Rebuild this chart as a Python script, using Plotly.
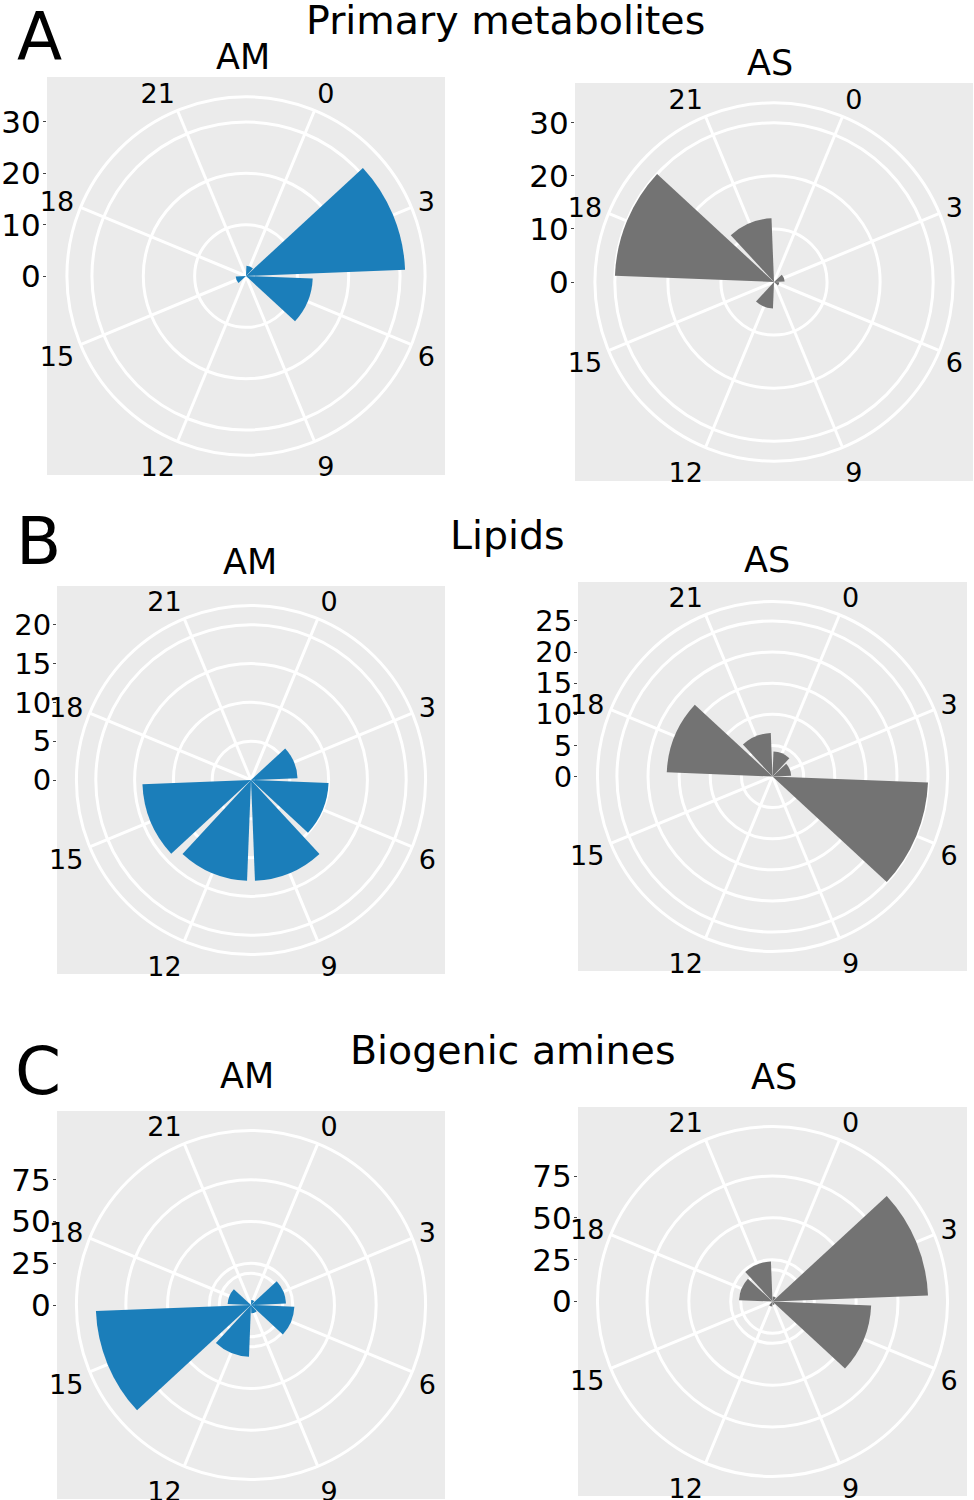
import plotly.graph_objects as go

# ---------------- data ----------------
hours = ["0", "3", "6", "9", "12", "15", "18", "21"]

primary_am = [2, 31, 13, 0, 0, 2, 0, 0]
primary_as = [0, 2, 1, 0, 5, 0, 30, 12]
lipids_am = [0, 6, 10, 13, 13, 14, 0, 0]
lipids_as = [4, 3, 25, 0, 0, 0, 17, 7]
amines_am = [3, 21, 26, 5, 31, 93, 14, 0]
amines_as = [3, 93, 59, 2, 3, 0, 20, 24]

radial_max = [31, 30, 20, 25, 93, 93]
radial_grid = [[10, 20, 30], [10, 20, 30], [5, 10, 15, 20], [5, 10, 15, 20, 25],
               [19, 25, 50, 75], [19, 25, 50, 75]]
radial_labels = [[0, 10, 20, 30], [0, 10, 20, 30], [0, 5, 10, 15, 20],
                 [0, 5, 10, 15, 20, 25], [0, 25, 50, 75], [0, 25, 50, 75]]

section_titles = ["Primary metabolites", "Lipids", "Biogenic amines"]
section_tags = ["A", "B", "C"]
group_names = ["AM", "AS"]

series = [primary_am, primary_as, lipids_am, lipids_as, amines_am, amines_as]

# ---------------- layout / style ----------------
W, H = 974, 1500
FONT = "DejaVu Sans"
BLUE = "#1B7EBA"
GREY = "#737373"
BG = "#EBEBEB"
GRIDW = 3

# panel squares in px: (x0, y0, size)
panels = [(47, 77, 398), (575, 83, 398),
          (57, 586, 388), (578, 582, 389),
          (57, 1111, 388), (578, 1107, 389)]
radial_font = [31, 31, 29, 29, 31, 31]
sub_pos = [(243, 57), (770, 63), (250, 562), (767, 560), (247, 1076), (774, 1077)]
title_pos = [(505, 20), (508, 535), (512, 1050)]
tag_pos = [(39, 37), (38, 542), (38, 1071)]

n = len(hours)
step = 360.0 / n
theta = [(i + 0.5) * step for i in range(n)]

fig = go.Figure()
layout = dict(width=W, height=H, margin=dict(l=0, r=0, t=0, b=0),
              paper_bgcolor="white", plot_bgcolor=BG, showlegend=False,
              font=dict(family=FONT, color="black"))
annotations = []

for k, vals in enumerate(series):
    x0, y0, s = panels[k]
    cx, cy = x0 + s / 2, y0 + s / 2
    sfx = "" if k == 0 else str(k + 1)
    color = BLUE if k % 2 == 0 else GREY

    # cartesian background square + radial axis labels
    half = radial_max[k] / 0.4 * 0.5
    layout["xaxis" + sfx] = dict(domain=[x0 / W, (x0 + s) / W], range=[-1, 1],
                                 visible=False, fixedrange=True,
                                 anchor="y" + sfx)
    layout["yaxis" + sfx] = dict(domain=[1 - (y0 + s) / H, 1 - y0 / H],
                                 range=[-half, half], anchor="x" + sfx,
                                 tickmode="array", tickvals=radial_labels[k],
                                 ticks="outside", ticklen=3, tickwidth=1.2,
                                 tickcolor="#444444", showgrid=False,
                                 ticklabelstandoff=-4,
                                 zeroline=False, showline=False, fixedrange=True,
                                 tickfont=dict(family=FONT, size=radial_font[k],
                                               color="black"))
    fig.add_trace(go.Scatter(x=[], y=[], xaxis="x" + sfx, yaxis="y" + sfx,
                             mode="markers", hoverinfo="skip"))

    # polar subplot
    pd = dict(
        domain=dict(x=[(cx - 0.45 * s) / W, (cx + 0.45 * s) / W],
                    y=[1 - (cy + 0.45 * s) / H, 1 - (cy - 0.45 * s) / H]),
        bgcolor="rgba(0,0,0,0)",
        angularaxis=dict(rotation=90, direction="clockwise", tickmode="array",
                         tickvals=theta, ticktext=hours, showgrid=True,
                         gridcolor="white", gridwidth=GRIDW, showline=True,
                         linecolor="white", linewidth=GRIDW, ticks="",
                         tickfont=dict(family=FONT, size=27, color="black")),
        radialaxis=dict(range=[0, radial_max[k] * 0.45 / 0.4], tickmode="array",
                        tickvals=radial_grid[k], showticklabels=False, ticks="",
                        showline=False, showgrid=True, gridcolor="white",
                        gridwidth=GRIDW),
    )
    layout["polar" + sfx] = pd
    fig.add_trace(go.Barpolar(r=vals, theta=theta, width=[0.9 * step] * n,
                              marker=dict(color=color, line=dict(width=0)),
                              subplot="polar" + sfx, hoverinfo="skip"))

    sx, sy = sub_pos[k]
    annotations.append(dict(text=group_names[k % 2], x=sx / W, y=1 - sy / H,
                            xref="paper", yref="paper", showarrow=False,
                            xanchor="center", yanchor="middle",
                            font=dict(family=FONT, size=35, color="black")))

for j in range(3):
    tx, ty = title_pos[j]
    annotations.append(dict(text=section_titles[j], x=tx / W, y=1 - ty / H,
                            xref="paper", yref="paper", showarrow=False,
                            xanchor="center", yanchor="middle",
                            font=dict(family=FONT, size=39.5, color="black")))
    gx, gy = tag_pos[j]
    annotations.append(dict(text=section_tags[j], x=gx / W, y=1 - gy / H,
                            xref="paper", yref="paper", showarrow=False,
                            xanchor="center", yanchor="middle",
                            font=dict(family=FONT, size=66, color="black")))

layout["annotations"] = annotations
fig.update_layout(**layout)
fig.write_html("out.html", config={"displayModeBar": False},
               post_script="document.body.style.margin='0px';")
